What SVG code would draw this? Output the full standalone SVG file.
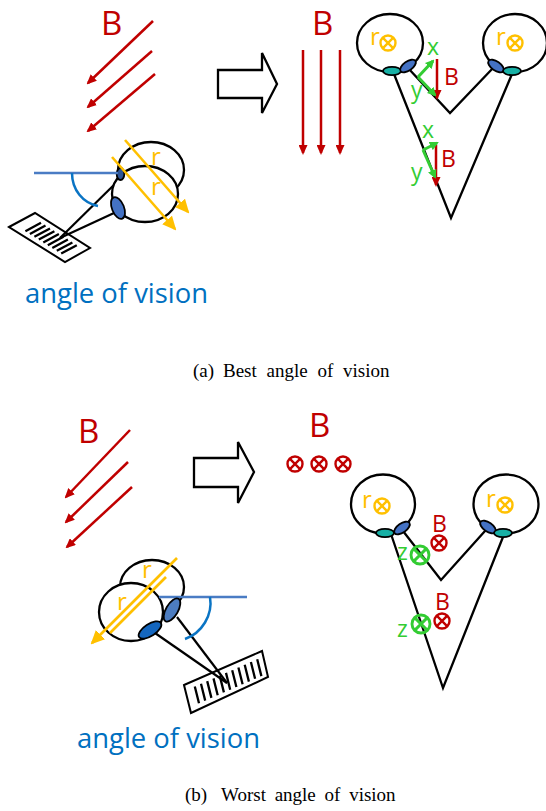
<svg xmlns="http://www.w3.org/2000/svg" xmlns:xlink="http://www.w3.org/1999/xlink" width="546" height="811" viewBox="0 0 546 811">
  <style>
    .lbl { font-family: "Open Sans", "Noto Sans", sans-serif; }
    .red { fill: #C00000; }
    .yel { fill: #FFC000; }
    .grn { fill: #33CC33; }
    .big { font-size: 33px; }
    .sm { font-size: 23px; }
    .rr { font-size: 24px; }
    .aov { font-family: "Open Sans", "Noto Sans", sans-serif; font-size: 28px; fill: #0070C0; }
    .cap { font-family: "Liberation Serif", "Times New Roman", serif; font-size: 19px; fill: #000; word-spacing: 4px; }
    .ln { stroke: #000; stroke-width: 2.3; fill: none; stroke-linecap: round; }
    .head { stroke: #000; stroke-width: 2.3; fill: #fff; }
    .eye { stroke: #000; stroke-width: 1.8; }
    .teal { fill: #17B0A5; }
    .blu { fill: #4472C4; }
    .bfield { stroke: #C00000; stroke-width: 2.5; fill: none; marker-end: url(#ahRed); }
    .rot { stroke: #FFC000; stroke-width: 2.6; fill: none; }
    .gv { stroke: #33CC33; stroke-width: 3; fill: none; marker-end: url(#ahGreen); }
    .sight { stroke: #000; stroke-width: 2.2; fill: none; }
    .hline { stroke: #4A7CC4; stroke-width: 2.3; fill: none; }
    .arc { stroke: #0A74C4; stroke-width: 2.5; fill: none; }
    .page { stroke: #000; stroke-width: 2; fill: #fff; }
    .txt { stroke: #000; stroke-width: 2.3; fill: none; }
    .hollow { stroke: #000; stroke-width: 2.3; fill: #fff; stroke-linejoin: miter; }
    .ox { fill: none; stroke-width: 2.4; }
  </style>
  <defs>
    <marker id="ahRed" markerUnits="userSpaceOnUse" markerWidth="10" markerHeight="9" refX="8" refY="4.5" orient="auto">
      <path d="M0,0 L10,4.5 L0,9 z" fill="#C00000"/>
    </marker>
    <marker id="ahGreen" markerUnits="userSpaceOnUse" markerWidth="9" markerHeight="9" refX="7" refY="4.5" orient="auto">
      <path d="M0,0 L9,4.5 L0,9 z" fill="#33CC33"/>
    </marker>
    <marker id="ahYellow" markerUnits="userSpaceOnUse" markerWidth="14" markerHeight="13" refX="12" refY="6.5" orient="auto">
      <path d="M0,0 L14,6.5 L0,13 z" fill="#FFC000"/>
    </marker>
    <!-- field/current pointing into the page -->
    <g id="ox">
      <circle r="7.5"/>
      <path d="M-5.3,-5.3 L5.3,5.3 M5.3,-5.3 L-5.3,5.3"/>
    </g>
  </defs>

  <!-- ===================== (a) ===================== -->
  <g id="a-field">
    <text class="lbl red big" x="101" y="35">B</text>
    <line class="bfield" x1="153" y1="21" x2="88" y2="83"/>
    <line class="bfield" x1="152" y1="51" x2="88" y2="107"/>
    <line class="bfield" x1="155" y1="74" x2="88" y2="131"/>
  </g>

  <g id="a-reader">
    <polygon class="page" points="9,227 35,213 90,248 65,262"/>
    <path class="txt" d="M25.4,231.2 L41,222.8 M29.9,234 L45.5,225.6 M34.4,236.8 L50,228.4 M38.8,239.6 L54.4,231.2 M43.3,242.4 L58.9,234 M47.8,245.2 L63.4,236.8 M52.3,248 L67.9,239.6 M56.8,250.8 L72.4,242.4 M61.2,253.6 L76.8,245.2"/>
    <line class="sight" x1="121" y1="178" x2="60" y2="238"/>
    <line class="sight" x1="114" y1="213" x2="60" y2="238"/>
    <ellipse class="head" cx="151" cy="170" rx="33" ry="28"/>
    <ellipse class="head" cx="145" cy="194" rx="33" ry="28"/>
    <ellipse class="eye" cx="120.5" cy="174" rx="3.8" ry="6" fill="#2E5597"/>
    <ellipse class="eye blu" cx="118" cy="208" rx="6" ry="11.5" transform="rotate(-22 118 208)"/>
    <line class="hline" x1="34" y1="173" x2="118" y2="173"/>
    <path class="arc" d="M72,173 C72,190 83,203 98,206"/>
    <line class="rot" x1="125" y1="140" x2="188" y2="212" marker-end="url(#ahYellow)"/>
    <line class="rot" x1="112" y1="157" x2="175" y2="229" marker-end="url(#ahYellow)"/>
    <text class="lbl yel rr" x="151" y="165">r</text>
    <text class="lbl yel rr" x="151" y="195">r</text>
  </g>

  <text class="aov" x="25" y="303" textLength="183" lengthAdjust="spacingAndGlyphs">angle of vision</text>

  <g id="a-transform">
    <polygon class="hollow" points="218,70 262,70 262,53 277,84 262,113 262,98 218,98"/>
  </g>

  <g id="a-uniform-field">
    <text class="lbl red big" x="312" y="35">B</text>
    <line class="bfield" x1="303" y1="50" x2="303" y2="153"/>
    <line class="bfield" x1="321" y1="50" x2="321" y2="153"/>
    <line class="bfield" x1="340" y1="50" x2="340" y2="153"/>
  </g>

  <g id="a-canals">
    <polyline class="ln" points="394,74 451,218 512,74"/>
    <polyline class="ln" points="408,68 450,113 494,67"/>
    <ellipse class="head" cx="390" cy="43" rx="33" ry="29"/>
    <ellipse class="head" cx="515" cy="43" rx="32" ry="29"/>
    <ellipse class="eye teal" cx="392" cy="71" rx="9" ry="4.2"/>
    <ellipse class="eye blu" cx="408" cy="66" rx="9" ry="4.5" transform="rotate(-35 408 66)"/>
    <ellipse class="eye blu" cx="496" cy="66" rx="9" ry="4.5" transform="rotate(35 496 66)"/>
    <ellipse class="eye teal" cx="512" cy="71" rx="9" ry="4.2"/>
    <text class="lbl yel rr" x="370" y="45">r</text>
    <use xlink:href="#ox" x="388" y="43" class="ox" stroke="#FFC000"/>
    <text class="lbl yel rr" x="496" y="45">r</text>
    <use xlink:href="#ox" x="515" y="43" class="ox" stroke="#FFC000"/>
  </g>

  <g id="a-upper-vectors">
    <line class="bfield" x1="437" y1="59" x2="437" y2="98"/>
    <line class="gv" x1="418" y1="77" x2="433" y2="61"/>
    <line class="gv" x1="418" y1="77" x2="435" y2="95"/>
    <text class="lbl grn sm" x="427" y="55">x</text>
    <text class="lbl grn sm" x="411" y="98">y</text>
    <text class="lbl red sm" x="444" y="85">B</text>
  </g>

  <g id="a-lower-vectors">
    <line class="bfield" x1="436" y1="145" x2="436" y2="185"/>
    <line class="gv" x1="423" y1="150" x2="437" y2="143"/>
    <line class="gv" x1="423" y1="150" x2="435" y2="177"/>
    <text class="lbl grn sm" x="422" y="138">x</text>
    <text class="lbl grn sm" x="411" y="180">y</text>
    <text class="lbl red sm" x="441" y="167">B</text>
  </g>

  <g id="caption-a">
    <text class="cap" x="193" y="377">(a)</text>
    <text class="cap" x="223" y="377" style="word-spacing:5px">Best angle of vision</text>
  </g>

  <!-- ===================== (b) ===================== -->
  <g id="b-field">
    <text class="lbl red big" x="78" y="443">B</text>
    <line class="bfield" x1="130" y1="430" x2="66" y2="497"/>
    <line class="bfield" x1="128" y1="462" x2="66" y2="522"/>
    <line class="bfield" x1="132" y1="487" x2="67" y2="547"/>
  </g>

  <g id="b-transform">
    <polygon class="hollow" points="194,458 238,458 238,442 254,472 238,503 238,487 194,487"/>
  </g>

  <g id="b-reader">
    <polygon class="page" points="184,685 262,651 268,677 191,713"/>
    <path class="txt" d="M194.8,686.5 L199,703.3 M201,683.8 L205.2,700.6 M207.2,681.1 L211.4,697.9 M213.5,678.4 L217.7,695.2 M219.7,675.6 L223.9,692.4 M226,672.9 L230.2,689.7 M232.2,670.2 L236.4,687 M238.4,667.5 L242.6,684.3 M244.7,664.8 L248.9,681.6 M250.9,662 L255.1,678.8 M257.2,659.3 L261.4,676.1"/>
    <line class="sight" x1="177" y1="617" x2="227" y2="683"/>
    <line class="sight" x1="155" y1="633" x2="227" y2="683"/>
    <ellipse class="head" cx="152" cy="587" rx="32" ry="27"/>
    <ellipse class="head" cx="131" cy="612" rx="32" ry="29"/>
    <line class="hline" x1="159" y1="597" x2="247" y2="597"/>
    <path class="arc" d="M210,597 C213,615 202,633 185,639"/>
    <ellipse class="eye" cx="172" cy="610" rx="6" ry="13" transform="rotate(30 172 610)" fill="#4C7CC0"/>
    <ellipse class="eye" cx="150" cy="630" rx="6" ry="13" transform="rotate(57 150 630)" fill="#1466BE"/>
    <line class="rot" x1="177" y1="558" x2="92" y2="643" marker-end="url(#ahYellow)"/>
    <line class="rot" x1="166" y1="577" x2="110" y2="633"/>
    <text class="lbl yel rr" x="142" y="578">r</text>
    <text class="lbl yel rr" x="117" y="610">r</text>
  </g>

  <text class="aov" x="77" y="748" textLength="183" lengthAdjust="spacingAndGlyphs">angle of vision</text>

  <g id="b-into-page-field">
    <text class="lbl red big" x="309" y="437">B</text>
    <use xlink:href="#ox" x="295" y="464" class="ox" stroke="#C00000"/>
    <use xlink:href="#ox" x="319" y="464" class="ox" stroke="#C00000"/>
    <use xlink:href="#ox" x="343" y="464" class="ox" stroke="#C00000"/>
  </g>

  <g id="b-canals">
    <polyline class="ln" points="392,537 443,688 503,537"/>
    <polyline class="ln" points="403,531 441,580 485,531"/>
    <ellipse class="head" cx="383" cy="504" rx="32" ry="29.5"/>
    <ellipse class="head" cx="506" cy="504" rx="32.5" ry="29.5"/>
    <ellipse class="eye teal" cx="385" cy="533" rx="9" ry="4.2"/>
    <ellipse class="eye blu" cx="402" cy="528" rx="9" ry="4.5" transform="rotate(-35 402 528)"/>
    <ellipse class="eye blu" cx="488" cy="527" rx="9" ry="4.5" transform="rotate(35 488 527)"/>
    <ellipse class="eye teal" cx="503" cy="533" rx="9" ry="4.2"/>
    <text class="lbl yel rr" x="362" y="508">r</text>
    <use xlink:href="#ox" x="382" y="506" class="ox" stroke="#FFC000"/>
    <text class="lbl yel rr" x="486" y="507">r</text>
    <use xlink:href="#ox" x="505" y="505" class="ox" stroke="#FFC000"/>
  </g>

  <g id="b-upper-vectors">
    <text class="lbl red sm" x="432" y="532">B</text>
    <use xlink:href="#ox" x="439" y="543" class="ox" stroke="#C00000"/>
    <text class="lbl grn sm" x="397" y="560">z</text>
    <use xlink:href="#ox" transform="translate(420 555) scale(1.2)" class="ox" stroke="#33CC33" stroke-width="2.1"/>
  </g>

  <g id="b-lower-vectors">
    <text class="lbl red sm" x="435" y="610">B</text>
    <use xlink:href="#ox" x="442" y="621" class="ox" stroke="#C00000"/>
    <text class="lbl grn sm" x="397" y="637">z</text>
    <use xlink:href="#ox" transform="translate(421 624) scale(1.2)" class="ox" stroke="#33CC33" stroke-width="2.1"/>
  </g>

  <g id="caption-b">
    <text class="cap" x="185" y="801">(b)</text>
    <text class="cap" x="221" y="801">Worst angle of vision</text>
  </g>
</svg>
